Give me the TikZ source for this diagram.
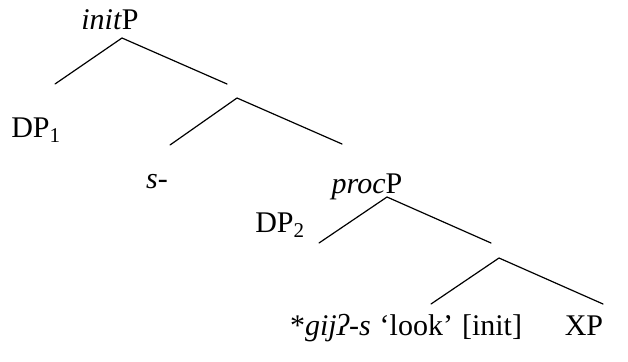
\documentclass[tikz,border=0pt]{standalone}
\usepackage{fontspec}
\setmainfont{Liberation Serif}

\begin{document}
\begin{tikzpicture}[x=1pt, y=-1pt, line width=1.2pt, line cap=round, line join=round,
  lbl/.style={anchor=base, inner sep=0pt, font=\fontsize{30}{36}\selectfont}]

  % ════ labels ════
  \node[lbl] (initP) at (110,30)  {\textit{init}P};
  \node[lbl] (dpone) at (36,137)  {DP\textsubscript{1}};
  \node[lbl] (sdash) at (157,188) {\textit{s}-};
  \node[lbl] (procP) at (367,193) {\textit{proc}P};
  \node[lbl] (dptwo) at (280,232) {DP\textsubscript{2}};
  \node[lbl] (verb)  at (406,335) {*\textit{gijʔ-s}\hspace{0.3em}‘look’\hspace{0.3em}[init]};
  \node[lbl] (xp)    at (584,335) {XP};

  % ════ branch points (apex / left end / right end) ════
  \coordinate (topA) at (122,38);  \coordinate (topL) at (55,84);   \coordinate (topR) at (227,84);
  \coordinate (midA) at (237,98);  \coordinate (midL) at (170,145); \coordinate (midR) at (342,144);
  \coordinate (prcA) at (387,197); \coordinate (prcL) at (319,243); \coordinate (prcR) at (491,243);
  \coordinate (lowA) at (499,258); \coordinate (lowL) at (431,304); \coordinate (lowR) at (603,304);

  % ════ branches ════
  \draw (topL) -- (topA) -- (topR);
  \draw (midL) -- (midA) -- (midR);
  \draw (prcL) -- (prcA) -- (prcR);
  \draw (lowL) -- (lowA) -- (lowR);

  \path[use as bounding box] (0,0) rectangle (628,361);
\end{tikzpicture}
\end{document}
